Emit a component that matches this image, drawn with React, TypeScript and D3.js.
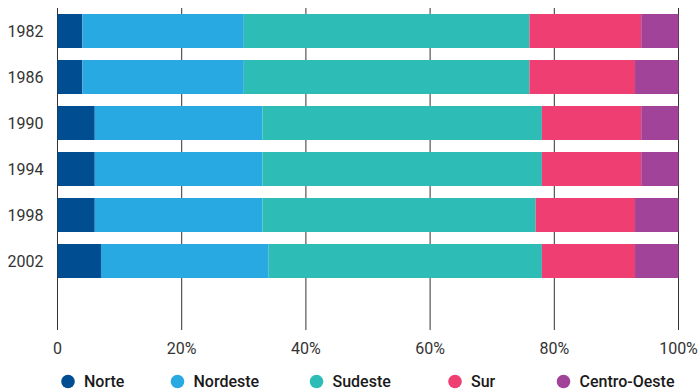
import React from "react";
import * as d3 from "d3";

const years = ["1982", "1986", "1990", "1994", "1998", "2002"];
const regions = ["Norte", "Nordeste", "Sudeste", "Sur", "Centro-Oeste"];
const colors = ["#004d91", "#29a9e1", "#2ebdb6", "#ef3e72", "#a04399"];
const norte = [4, 4, 6, 6, 6, 7];
const nordeste = [26, 26, 27, 27, 27, 27];
const sudeste = [46, 46, 45, 45, 44, 44];
const sur = [18, 17, 16, 16, 16, 15];
const centroOeste = [6, 7, 6, 6, 7, 7];
const ticks = [0, 20, 40, 60, 80, 100];
const tickLabels = ["0", "20%", "40%", "60%", "80%", "100%"];
const legendX = [68, 177.5, 316.5, 455, 563.5];

const W = 698;
const H = 392;

export default function App() {
  const rows = years.map((y, i) => ({
    year: y,
    Norte: norte[i],
    Nordeste: nordeste[i],
    Sudeste: sudeste[i],
    Sur: sur[i],
    "Centro-Oeste": centroOeste[i],
  }));
  const stack = d3.stack<any>().keys(regions)(rows);
  const x = d3.scaleLinear().domain([0, 100]).range([57.5, 678.5]);
  const y = d3
    .scaleBand()
    .domain(years)
    .range([8, 284])
    .paddingInner(12 / 46)
    .paddingOuter(6 / 46);
  const gridTop = 8;
  const gridBottom = 330;
  const font = "Roboto, sans-serif";

  return (
    <svg
      width={W}
      height={H}
      style={{ position: "absolute", left: 0, top: 0, background: "#fff" }}
    >
      <g>
        {ticks.map((t) => (
          <line
            key={t}
            x1={x(t)}
            x2={x(t)}
            y1={gridTop}
            y2={gridBottom}
            stroke="#333"
            strokeWidth={1}
          />
        ))}
      </g>
      <g>
        {stack.map((s, si) =>
          s.map((d, di) => (
            <rect
              key={si + "-" + di}
              x={x(d[0])}
              width={x(d[1]) - x(d[0])}
              y={y(years[di])}
              height={y.bandwidth()}
              fill={colors[si]}
            />
          ))
        )}
      </g>
      <g>
        {years.map((yr) => (
          <text
            key={yr}
            x={43.5}
            y={(y(yr) as number) + y.bandwidth() / 2}
            dy="0.35em"
            textAnchor="end"
            fontFamily={font}
            fontSize={16}
            fill="#333"
          >
            {yr}
          </text>
        ))}
      </g>
      <g>
        {ticks.map((t, i) => (
          <text
            key={t}
            x={x(t)}
            y={354}
            textAnchor="middle"
            fontFamily={font}
            fontSize={16}
            fill="#333"
          >
            {tickLabels[i]}
          </text>
        ))}
      </g>
      <g>
        {regions.map((r, i) => (
          <g key={r}>
            <circle cx={legendX[i]} cy={381.5} r={6.8} fill={colors[i]} />
            <text
              x={legendX[i] + 16}
              y={387}
              fontFamily={font}
              fontSize={16}
              fontWeight={500}
              fill="#1a1a1a"
            >
              {r}
            </text>
          </g>
        ))}
      </g>
    </svg>
  );
}
